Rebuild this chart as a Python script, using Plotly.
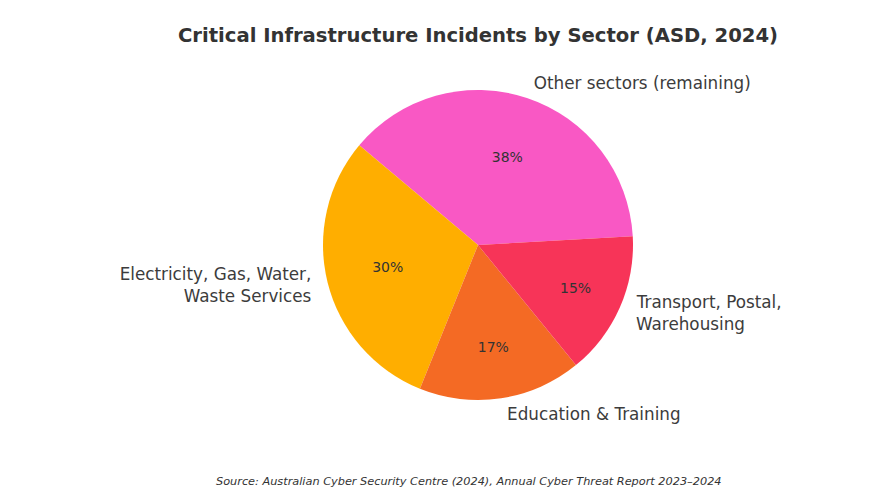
import plotly.graph_objects as go

# ASD Annual Cyber Threat Report 2023-2024, critical infrastructure incidents
sectors = ['Other sectors (remaining)',
           'Electricity, Gas, Water,<br>' + '\u00a0' * 12 + 'Waste Services',
           'Education & Training',
           'Transport, Postal,<br>Warehousing' + '\u00a0' * 7]
shares = [38, 30, 17, 15]
colours = ['#F958C4', '#FFAE00', '#F46A24', '#F73458']

clear = ['rgba(0,0,0,0)'] * len(shares)
pie_dom = dict(x=[6 / 322, 316 / 322], y=[6 / 322, 316 / 322])
common = dict(labels=sectors, values=shares, sort=False,
              direction='counterclockwise', rotation=-50, showlegend=False)

fig = go.Figure()

# coloured slices
fig.add_trace(go.Pie(**common, domain=pie_dom,
                     marker=dict(colors=colours, line=dict(width=0)),
                     textinfo='none', hoverinfo='label+percent'))

# percentages, pulled in toward the centre with a small hole
fig.add_trace(go.Pie(**common, domain=pie_dom, hole=0.2,
                     marker=dict(colors=clear, line=dict(width=0)),
                     textinfo='percent', textposition='inside',
                     insidetextorientation='horizontal',
                     texttemplate='%{percent:.0%}',
                     textfont=dict(family='DejaVu Sans', size=14, color='#333333'),
                     hoverinfo='skip'))

# sector names just outside the slices
fig.add_trace(go.Pie(**common,
                     marker=dict(colors=clear, line=dict(width=0)),
                     textinfo='label', textposition='outside',
                     textfont=dict(family='DejaVu Sans', size=16.8, color='#3c3c3c'),
                     hoverinfo='skip'))

fig.update_layout(
    width=882, height=495,
    margin=dict(l=309, r=251, t=76, b=97),
    paper_bgcolor='white', plot_bgcolor='white',
    title=dict(text='<b>Critical Infrastructure Incidents by Sector (ASD, 2024)</b>',
               x=470 / 882, xanchor='center', y=1 - 27 / 495, yanchor='middle',
               xref='container', yref='container',
               font=dict(family='DejaVu Sans', size=19.6, color='#333333')),
    annotations=[dict(text='<i>Source: Australian Cyber Security Centre (2024), '
                           'Annual Cyber Threat Report 2023–2024</i>',
                      x=(460.5 - 309) / 322, y=(495 - 473 - 97) / 322,
                      xref='paper', yref='paper',
                      showarrow=False, xanchor='center', yanchor='middle',
                      font=dict(family='DejaVu Sans', size=11.3, color='#333333'))],
)

fig.write_html('out.html')
